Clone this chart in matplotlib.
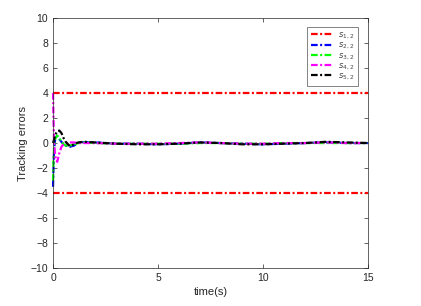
import matplotlib.pyplot as plt

plt.rcParams['font.family'] = ['Liberation Sans', 'DejaVu Sans']

# time samples (s)
t = [0, 0.02, 0.05, 0.1, 0.15, 0.2, 0.3, 0.4, 0.5, 0.6, 0.8, 1.0, 1.2, 1.5, 2, 3, 4,
     5, 6, 7, 8, 9, 10, 11, 12, 13, 14, 15]

# error bound s_{1,2}
bound = 4

s2 = [-3.5, -2.0, -0.5, 0.3, 0.5, 0.5, 0.3, 0.1, -0.1, -0.2, -0.3, -0.2, 0.0, 0.08, 0.05,
      -0.05, -0.05, -0.1, -0.05, 0.05, 0.0, -0.05, -0.1, -0.05, 0.0, 0.05, 0.0, 0.0]
s3 = [-3.0, -1.5, -0.3, 0.3, 0.5, 0.6, 0.4, 0.1, -0.1, -0.2, -0.2, -0.1, 0.0, 0.05, 0.0,
      -0.05, -0.05, -0.05, -0.05, 0.0, 0.0, -0.05, -0.05, 0.0, 0.0, 0.0, 0.0, 0.0]
s4 = [4.0, 2.0, 0.0, -1.0, -1.4, -1.5, -0.8, -0.3, -0.1, 0.0, 0.05, 0.05, 0.0, 0.0, 0.0,
      -0.05, -0.05, -0.05, 0.0, 0.05, 0.0, -0.05, -0.05, 0.0, 0.0, 0.05, 0.0, 0.0]
s5 = [0.0, 0.1, 0.3, 0.6, 0.8, 0.95, 1.0, 0.8, 0.4, 0.1, -0.25, -0.1, 0.05, 0.1, 0.05,
      -0.05, -0.1, -0.1, -0.05, 0.05, 0.0, -0.1, -0.1, -0.05, 0.0, 0.1, 0.05, 0.0]

labels = ['$s_{1,2}$', '$s_{2,2}$', '$s_{3,2}$', '$s_{4,2}$', '$s_{5,2}$']
colors = ['#ff0000', '#0000ff', '#00ff00', '#ff00ff', '#000000']

fig = plt.figure(figsize=(4.21, 3.06), dpi=100)
ax = fig.add_axes([0.126, 0.124, 0.748, 0.817])

lw = 1.6
dash = (3, 1.1, 0.9, 1.1)
ax.plot([t[0], t[-1]], [bound, bound], color=colors[0], lw=lw, dashes=dash, label=labels[0])
ax.plot([t[0], t[-1]], [-bound, -bound], color=colors[0], lw=lw, dashes=dash)
for ys, c, lab in zip([s2, s3, s4, s5], colors[1:], labels[1:]):
    ax.plot(t, ys, color=c, lw=lw, dashes=dash, label=lab, clip_on=False)

ax.set_xlim(0, 15)
ax.set_ylim(-10, 10)
ax.set_xticks([0, 5, 10, 15])
ax.set_yticks(range(-10, 11, 2))
ax.tick_params(direction='in', labelsize=7.5, colors='#262626', length=3, width=0.5,
               top=True, right=True)
for s in ax.spines.values():
    s.set_color('#262626')
    s.set_linewidth(0.5)
# MATLAB style: no tick labels on top/right
ax.tick_params(labeltop=False, labelright=False)

ax.set_xlabel('time(s)', fontsize=8, color='#262626', labelpad=3)
ax.set_ylabel('Tracking errors', fontsize=8, color='#262626', labelpad=2)

leg = ax.legend(loc='upper right', fontsize=6, handlelength=2.5, labelspacing=0.0,
                handletextpad=0.7, fancybox=False, edgecolor='#262626', borderpad=0.45,
                borderaxespad=0, bbox_to_anchor=(0.968, 0.964))
leg.get_frame().set_linewidth(0.5)
for txt in leg.get_texts():
    txt.set_color('#444444')

fig.savefig('out.png', dpi=100)
